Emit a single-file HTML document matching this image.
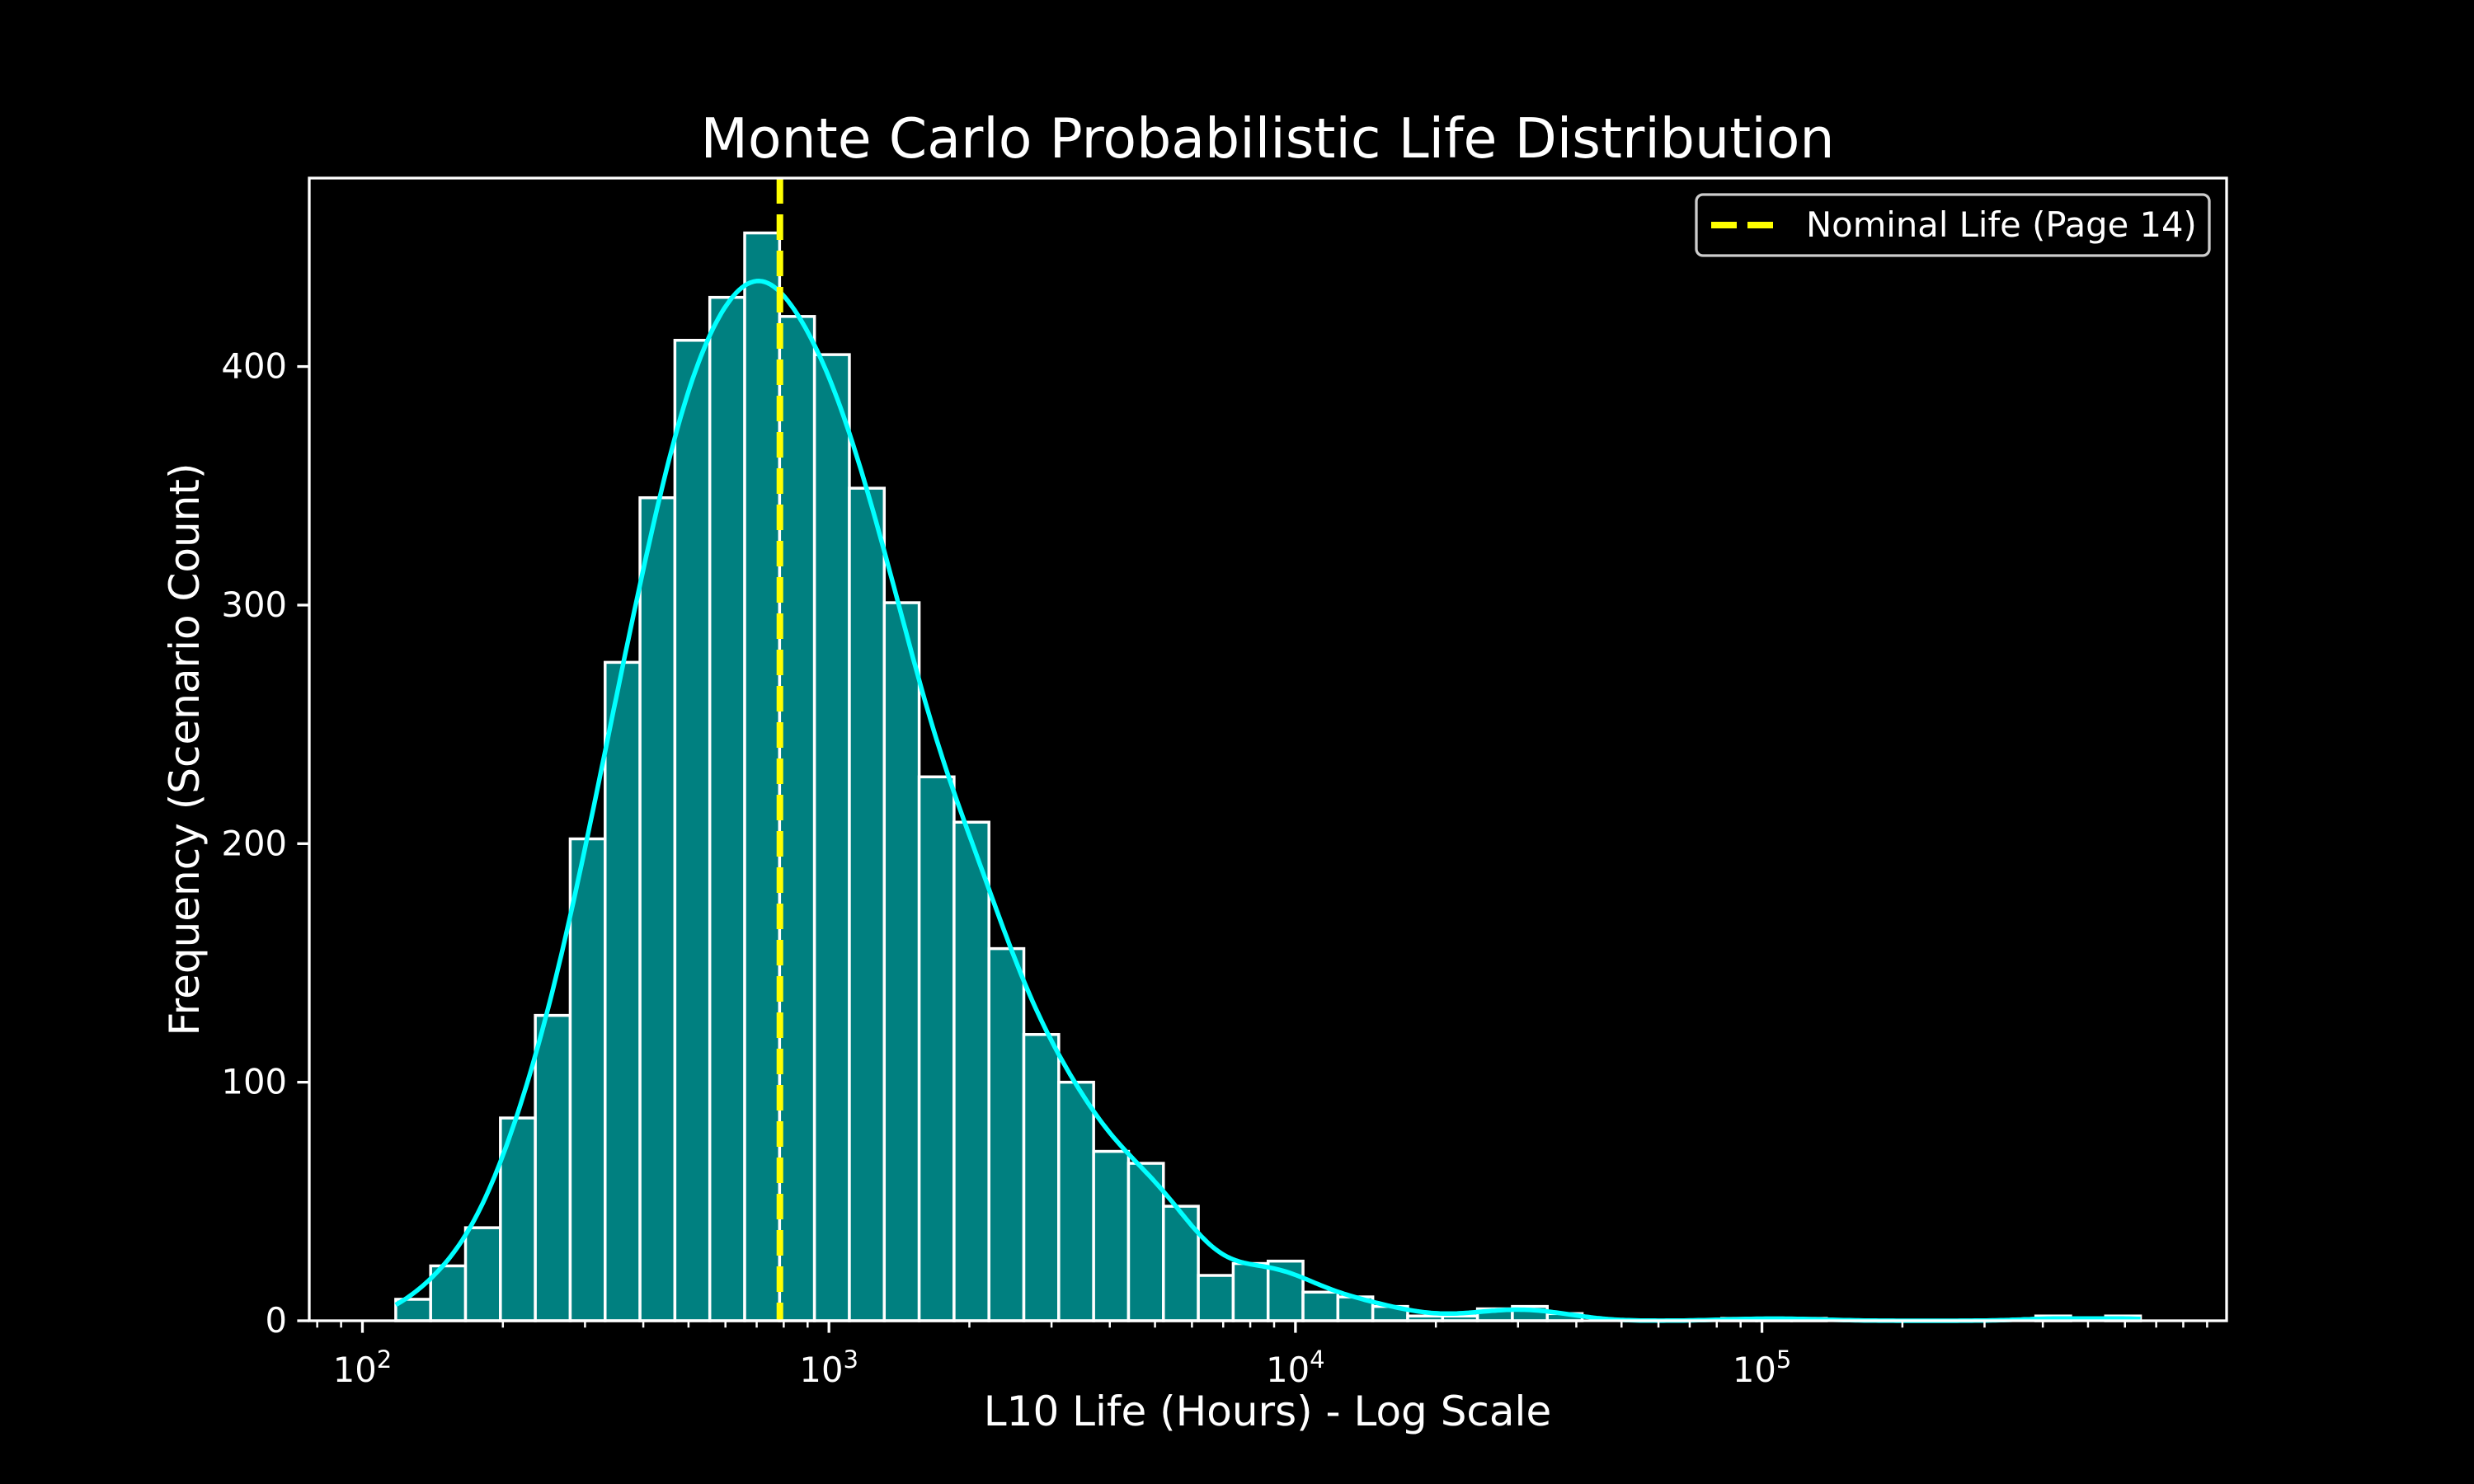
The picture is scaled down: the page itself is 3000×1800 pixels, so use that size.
<!DOCTYPE html>
<html><head><meta charset="utf-8"><style>
html,body{margin:0;padding:0;background:#000;}
svg{display:block;font-family:"DejaVu Sans","Liberation Sans",sans-serif;}
</style></head><body>
<svg id="chart" width="3000" height="1800" viewBox="0 0 3000 1800" xmlns="http://www.w3.org/2000/svg">
<rect x="0" y="0" width="3000" height="1800" fill="#000"/>
<text x="1537" y="191" font-size="66.5" fill="#fff" text-anchor="middle">Monte Carlo Probabilistic Life Distribution</text>
<text x="1537" y="1729" font-size="50" fill="#fff" text-anchor="middle">L10 Life (Hours) - Log Scale</text>
<text x="0" y="0" font-size="50" fill="#fff" text-anchor="middle" transform="translate(241,909) rotate(-90)">Frequency (Scenario Count)</text>
<g id="plot"></g>
</svg>
<script>
const binStartLog = 2.0714;
const binWidthLog = 0.0748;
const counts = [9,23,39,85,128,202,276,345,411,429,456,421,405,349,301,228,209,156,120,100,71,66,48,19,24,25,12,10,6,2,2,5,6,3,0,0,0,0,1,1,1,0,0,0,0,0,0,2,0,2];
const nominalLife = 785;
const yTicks = [0,100,200,300,400];
const xDecades = [2,3,4,5];

const L=375,R=2700,T=216,B=1602;
const xMinLog=1.886,xMaxLog=5.996,yMax=479;
function xs(lg){return L+(lg-xMinLog)/(xMaxLog-xMinLog)*(R-L);}
function ys(v){return B-v/yMax*(B-T);}
const NS="http://www.w3.org/2000/svg";
const plot=document.getElementById('plot');
function mk(tag,attrs,parent){const e=document.createElementNS(NS,tag);for(const k in attrs)e.setAttribute(k,attrs[k]);(parent||plot).appendChild(e);return e;}

counts.forEach((c,i)=>{
  const x0=xs(binStartLog+i*binWidthLog), x1=xs(binStartLog+(i+1)*binWidthLog);
  const r=mk('rect',{x:x0,y:ys(c),width:x1-x0,height:B-ys(c),fill:'#008080',stroke:'#fff','stroke-width':3.5});
  
  
});

const total=counts.reduce((a,b)=>a+b,0);
let m=0;counts.forEach((c,i)=>m+=c*(binStartLog+(i+0.5)*binWidthLog));m/=total;
let v=0;counts.forEach((c,i)=>{const d=binStartLog+(i+0.5)*binWidthLog-m;v+=c*d*d;});v/=total;
const bw=Math.sqrt(v)*Math.pow(total,-0.2)*1.0;
const lo=binStartLog, hi=binStartLog+counts.length*binWidthLog;
let pts=[];
for(let k=0;k<=600;k++){
  const x=lo+(hi-lo)*k/600;let s=0;
  counts.forEach((c,i)=>{const cx=binStartLog+(i+0.5)*binWidthLog;const sw=Math.sqrt(bw*bw+binWidthLog*binWidthLog/12);s+=c*Math.exp(-0.5*((x-cx)/sw)**2)/(Math.sqrt(2*Math.PI)*sw);});
  pts.push(xs(x).toFixed(1)+','+ys(s*binWidthLog).toFixed(1));
}
const kde=mk('polyline',{points:pts.join(' '),fill:'none',stroke:'#00ffff','stroke-width':5.5,'stroke-linejoin':'round'});



const nx=xs(Math.log10(nominalLife));
const nl=mk('line',{x1:nx,x2:nx,y1:T,y2:B,stroke:'#ffff00','stroke-width':8,'stroke-dasharray':'31 13'});



const sp=mk('rect',{x:L,y:T,width:R-L,height:B-T,fill:'none',stroke:'#fff','stroke-width':3.3});



yTicks.forEach(t=>{
  const y=ys(t);
  const tl=mk('line',{x1:L-14.6,x2:L,y1:y,y2:y,stroke:'#fff','stroke-width':3.3});
  
  
  const tx=mk('text',{x:L-27,y:y+14,'font-size':41.7,fill:'#fff','text-anchor':'end'});
  tx.textContent=t;
  
  
});
for(let d=1;d<=5;d++){for(let k=2;k<=9;k++){const lg=d+Math.log10(k);if(lg<xMinLog||lg>xMaxLog)continue;const x=xs(lg);
  const mt=mk('line',{x1:x,x2:x,y1:B,y2:B+8.3,stroke:'#fff','stroke-width':2.5});
  
  
}}
xDecades.forEach(d=>{
  const x=xs(d);
  const tl=mk('line',{x1:x,x2:x,y1:B,y2:B+14.6,stroke:'#fff','stroke-width':3.3});
  
  
  const tx=mk('text',{x:x,y:1676,'font-size':41.7,fill:'#fff','text-anchor':'middle'});
  
  
  const a=document.createElementNS(NS,'tspan');a.textContent='10';tx.appendChild(a);
  const b=document.createElementNS(NS,'tspan');b.setAttribute('dy','-17');b.setAttribute('font-size','29');b.textContent=d;tx.appendChild(b);
});

const lg=mk('g',{});


const lb=mk('rect',{x:2057,y:236,width:622,height:74,rx:8,fill:'#000',stroke:'#cccccc','stroke-width':3.3},lg);


const ll=mk('line',{x1:2075,x2:2155,y1:273,y2:273,stroke:'#ffff00','stroke-width':8,'stroke-dasharray':'31 13'},lg);


const lt=mk('text',{x:2190,y:287,'font-size':41.7,fill:'#fff'},lg);
lt.textContent='Nominal Life (Page 14)';


</script>
</body></html>
